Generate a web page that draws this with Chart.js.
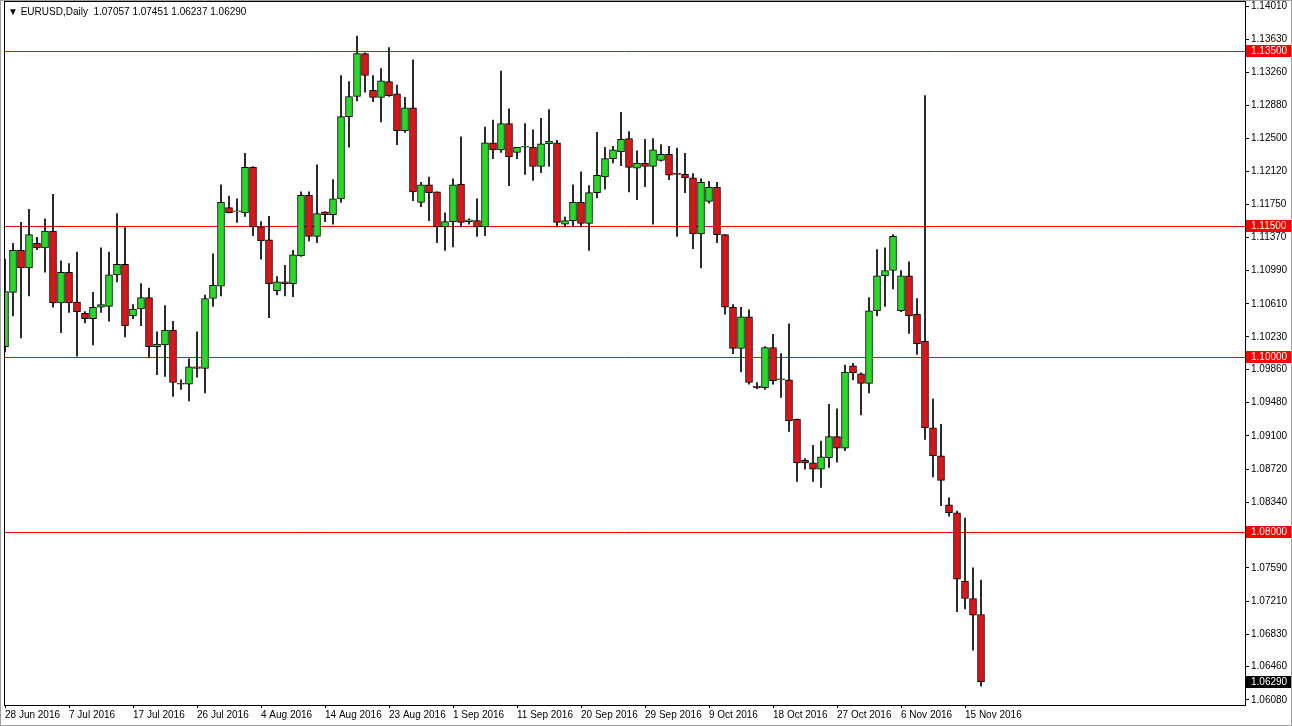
<!DOCTYPE html>
<html><head><meta charset="utf-8">
<script src="https://cdn.jsdelivr.net/npm/chart.js@4.4.1/dist/chart.umd.min.js"></script>
<style>html,body{margin:0;padding:0;background:#fff;overflow:hidden}#wrap{width:1292px;height:726px;position:relative}</style>
</head><body><div id="wrap"><canvas id="c" width="1292" height="726"></canvas></div>
<script>
const openP = [1.1012,1.1074,1.1122,1.1102,1.1130,1.1125,1.1144,1.1062,1.1097,1.1063,
1.1050,1.1044,1.1057,1.1058,1.1094,1.1106,1.1047,1.1055,1.1068,1.1012,
1.1014,1.1031,1.0969,1.0969,1.0989,1.0987,1.1067,1.1081,1.1171,1.1166,
1.1165,1.1217,1.1149,1.1134,1.1076,1.1086,1.1084,1.1116,1.1185,1.1138,
1.1166,1.1163,1.1181,1.1275,1.1298,1.1347,1.1305,1.1297,1.1315,1.1301,
1.1259,1.1285,1.1177,1.1197,1.1189,1.1149,1.1155,1.1198,1.1155,1.1156,
1.1149,1.1245,1.1237,1.1267,1.1234,1.1240,1.1240,1.1218,1.1244,1.1245,
1.1152,1.1156,1.1177,1.1153,1.1188,1.1206,1.1227,1.1235,1.1250,1.1216,
1.1222,1.1218,1.1225,1.1232,1.1209,1.1209,1.1205,1.1141,1.1178,1.1194,
1.1140,1.1057,1.1010,1.1046,1.0967,1.0965,1.1011,1.0974,1.0974,1.0929,
1.0882,1.0879,1.0872,1.0885,1.0909,1.0896,1.0990,1.0981,1.0970,1.1053,
1.1093,1.1099,1.1053,1.1093,1.1049,1.1018,1.0919,1.0887,1.0831,1.0822,
1.0744,1.0724,1.07057];
const highP = [1.1112,1.1130,1.1154,1.1169,1.1137,1.1158,1.1186,1.1110,1.1107,1.1120,
1.1052,1.1074,1.1125,1.1120,1.1164,1.1148,1.1060,1.1084,1.1079,1.1029,
1.1059,1.1041,1.0974,1.0998,1.1029,1.1071,1.1118,1.1197,1.1184,1.1181,
1.1233,1.1218,1.1155,1.1161,1.1092,1.1105,1.1122,1.1189,1.1189,1.1220,
1.1166,1.1203,1.1322,1.1315,1.1367,1.1348,1.1322,1.1330,1.1354,1.1311,
1.1297,1.1340,1.1200,1.1206,1.1189,1.1165,1.1204,1.1252,1.1158,1.1181,
1.1263,1.1271,1.1327,1.1284,1.1240,1.1267,1.1260,1.1273,1.1283,1.1248,
1.1160,1.1197,1.1212,1.1196,1.1257,1.1240,1.1241,1.1280,1.1258,1.1236,
1.1249,1.1250,1.1243,1.1241,1.1239,1.1233,1.1210,1.1204,1.1201,1.1200,
1.1140,1.1060,1.1057,1.1054,1.0971,1.1012,1.1026,1.1004,1.1038,1.0929,
1.0884,1.0899,1.0904,1.0946,1.0941,1.0991,1.0993,1.0982,1.1068,1.1123,
1.1125,1.1140,1.1099,1.1109,1.1067,1.1299,1.0952,1.0923,1.0839,1.0824,
1.0816,1.0759,1.07451];
const lowP = [1.1006,1.1047,1.1022,1.1070,1.1123,1.1097,1.1057,1.1028,1.1051,1.1001,
1.1039,1.1014,1.1051,1.1041,1.1086,1.1023,1.1044,1.1036,1.0999,1.0980,
1.0978,1.0955,1.0963,1.0950,1.0977,1.0959,1.1058,1.1070,1.1165,1.1154,
1.1161,1.1139,1.1112,1.1045,1.1071,1.1070,1.1069,1.1115,1.1133,1.1131,
1.1155,1.1152,1.1177,1.1240,1.1293,1.1303,1.1292,1.1269,1.1298,1.1243,
1.1257,1.1179,1.1172,1.1156,1.1131,1.1122,1.1126,1.1149,1.1152,1.1138,
1.1139,1.1227,1.1234,1.1196,1.1227,1.1209,1.1202,1.1211,1.1218,1.1149,
1.1149,1.1150,1.1149,1.1122,1.1182,1.1192,1.1222,1.1219,1.1189,1.1180,
1.1195,1.1152,1.1224,1.1203,1.1138,1.1188,1.1124,1.1102,1.1176,1.1131,
1.1049,1.1004,1.0983,1.0969,1.0964,1.0963,1.0969,1.0954,1.0915,1.0858,
1.0872,1.0858,1.0851,1.0874,1.0880,1.0893,1.0974,1.0934,1.0959,1.1047,
1.1058,1.1078,1.1052,1.1027,1.1003,1.0906,1.0863,1.0830,1.0818,1.0709,
1.0712,1.0665,1.06237];
const closeP = [1.1075,1.1122,1.1102,1.1140,1.1125,1.1144,1.1062,1.1097,1.1062,1.1052,
1.1044,1.1057,1.1060,1.1094,1.1106,1.1036,1.1055,1.1068,1.1012,1.1015,
1.1031,1.0971,1.0969,1.0989,1.0987,1.1067,1.1082,1.1177,1.1165,1.1167,
1.1217,1.1149,1.1133,1.1084,1.1086,1.1084,1.1117,1.1185,1.1138,1.1164,
1.1163,1.1181,1.1275,1.1298,1.1347,1.1322,1.1297,1.1316,1.1299,1.1259,
1.1285,1.1189,1.1197,1.1188,1.1149,1.1155,1.1197,1.1154,1.1157,1.1149,
1.1245,1.1237,1.1267,1.1229,1.1240,1.1241,1.1218,1.1244,1.1247,1.1154,
1.1156,1.1177,1.1153,1.1188,1.1208,1.1227,1.1237,1.1249,1.1217,1.1222,
1.1218,1.1237,1.1232,1.1208,1.1209,1.1205,1.1141,1.1200,1.1194,1.1140,
1.1057,1.1010,1.1046,1.0971,1.0965,1.1011,1.0973,1.0974,1.0927,1.0879,
1.0879,1.0872,1.0886,1.0909,1.0896,1.0983,1.0982,1.0970,1.1053,1.1093,
1.1099,1.1138,1.1093,1.1047,1.1015,1.0919,1.0887,1.0859,1.0822,1.0746,
1.0724,1.0705,1.06290];
const dateTicks = ["28 Jun 2016","7 Jul 2016","17 Jul 2016","26 Jul 2016","4 Aug 2016","14 Aug 2016","23 Aug 2016","1 Sep 2016","11 Sep 2016","20 Sep 2016","29 Sep 2016","9 Oct 2016","18 Oct 2016","27 Oct 2016","6 Nov 2016","15 Nov 2016"];
const priceTicks = [1.14010,1.13630,1.13260,1.12880,1.12500,1.12120,1.11750,1.11370,1.10990,1.10610,1.10230,1.09860,1.09480,1.09100,1.08720,1.08340,1.07970,1.07590,1.07210,1.06830,1.06460,1.06080];
const levels = [1.13500,1.11500,1.10000,1.08000];
const lastPrice = 1.06290;
const titleText = "\u25BC EURUSD,Daily  1.07057 1.07451 1.06237 1.06290";

const GREEN='#22dd22', RED='#e01414';
const FONT='"Liberation Sans", Arial, sans-serif';
const bodies = openP.map((o,i)=>({x:i,y:[o,closeP[i]]}));
const wicks = openP.map((o,i)=>({x:i,y:[lowP[i],highP[i]]}));
const bodyColors = openP.map((o,i)=>closeP[i]>o?GREEN:RED);

const overlay = {
  id:'overlay',
  beforeDatasetsDraw(chart){
    const {ctx,chartArea:a,scales:{y}}=chart;
    ctx.save();ctx.strokeStyle='#ff0000';ctx.lineWidth=1;
    levels.forEach(v=>{const py=Math.round(y.getPixelForValue(v))+0.5;ctx.beginPath();ctx.moveTo(a.left,py);ctx.lineTo(a.right,py);ctx.stroke();});
    ctx.restore();
  },
  afterDraw(chart){
    const {ctx,chartArea:a,scales:{y}}=chart;
    ctx.save();
    ctx.strokeStyle='#000';ctx.lineWidth=1;
    ctx.strokeRect(a.left+0.5,1.5,a.right-a.left,a.bottom-1);
    ctx.font='10px '+FONT;ctx.textBaseline='middle';ctx.textAlign='left';
    const t0=priceTicks[0], p0=Math.round(y.getPixelForValue(t0));
    ctx.fillStyle='#000';ctx.fillText(t0.toFixed(5),a.right+6,p0);
    ctx.beginPath();ctx.moveTo(a.right,p0+0.5);ctx.lineTo(a.right+4,p0+0.5);ctx.stroke();
    const box=(v,col)=>{const py=Math.round(y.getPixelForValue(v));ctx.fillStyle=col;ctx.fillRect(a.right+1,py-6,45,12);ctx.fillStyle='#fff';ctx.fillText(v.toFixed(5),a.right+6,py);};
    levels.forEach(v=>box(v,'#ff0000'));
    box(lastPrice,'#000');
    ctx.fillStyle='#000';ctx.fillText(titleText,8,12);
    ctx.strokeStyle='#a0a0a0';ctx.strokeRect(0.5,0.5,1291,725);
    ctx.restore();
  }
};

new Chart(document.getElementById('c'),{
  type:'bar',
  data:{datasets:[
    {data:bodies,backgroundColor:bodyColors,borderColor:'#000',borderWidth:1,borderSkipped:false,barThickness:7,minBarLength:1,grouped:false,order:0},
    {data:wicks,backgroundColor:'#000',borderWidth:0,barThickness:1,grouped:false,order:1}
  ]},
  options:{
    responsive:false,animation:false,
    layout:{padding:{left:4,top:0,right:0,bottom:0}},
    plugins:{legend:{display:false},tooltip:{enabled:false}},
    scales:{
      x:{type:'linear',offset:false,min:-0.125,max:155,
        afterBuildTicks:s=>{s.ticks=dateTicks.map((t,i)=>({value:i*8}));},
        afterFit:s=>{s.height=21;},
        grid:{drawOnChartArea:false,drawTicks:true,tickLength:3,color:'#000',offset:false},border:{display:false},
        ticks:{align:'start',padding:1,maxRotation:0,autoSkip:false,color:'#000',font:{family:FONT,size:10},callback:(v)=>dateTicks[Math.round(v/8)]}},
      y:{position:'right',min:1.06022,max:1.13992,
        afterBuildTicks:s=>{s.ticks=priceTicks.slice(1).map(v=>({value:v}));},
        afterFit:s=>{s.width=47;},
        grid:{drawOnChartArea:false,drawTicks:true,tickLength:4,color:'#000'},border:{display:false},
        ticks:{padding:2,autoSkip:false,color:'#000',font:{family:FONT,size:10},callback:v=>Number(v).toFixed(5)}}
    }
  },
  plugins:[overlay]
});
</script></body></html>
